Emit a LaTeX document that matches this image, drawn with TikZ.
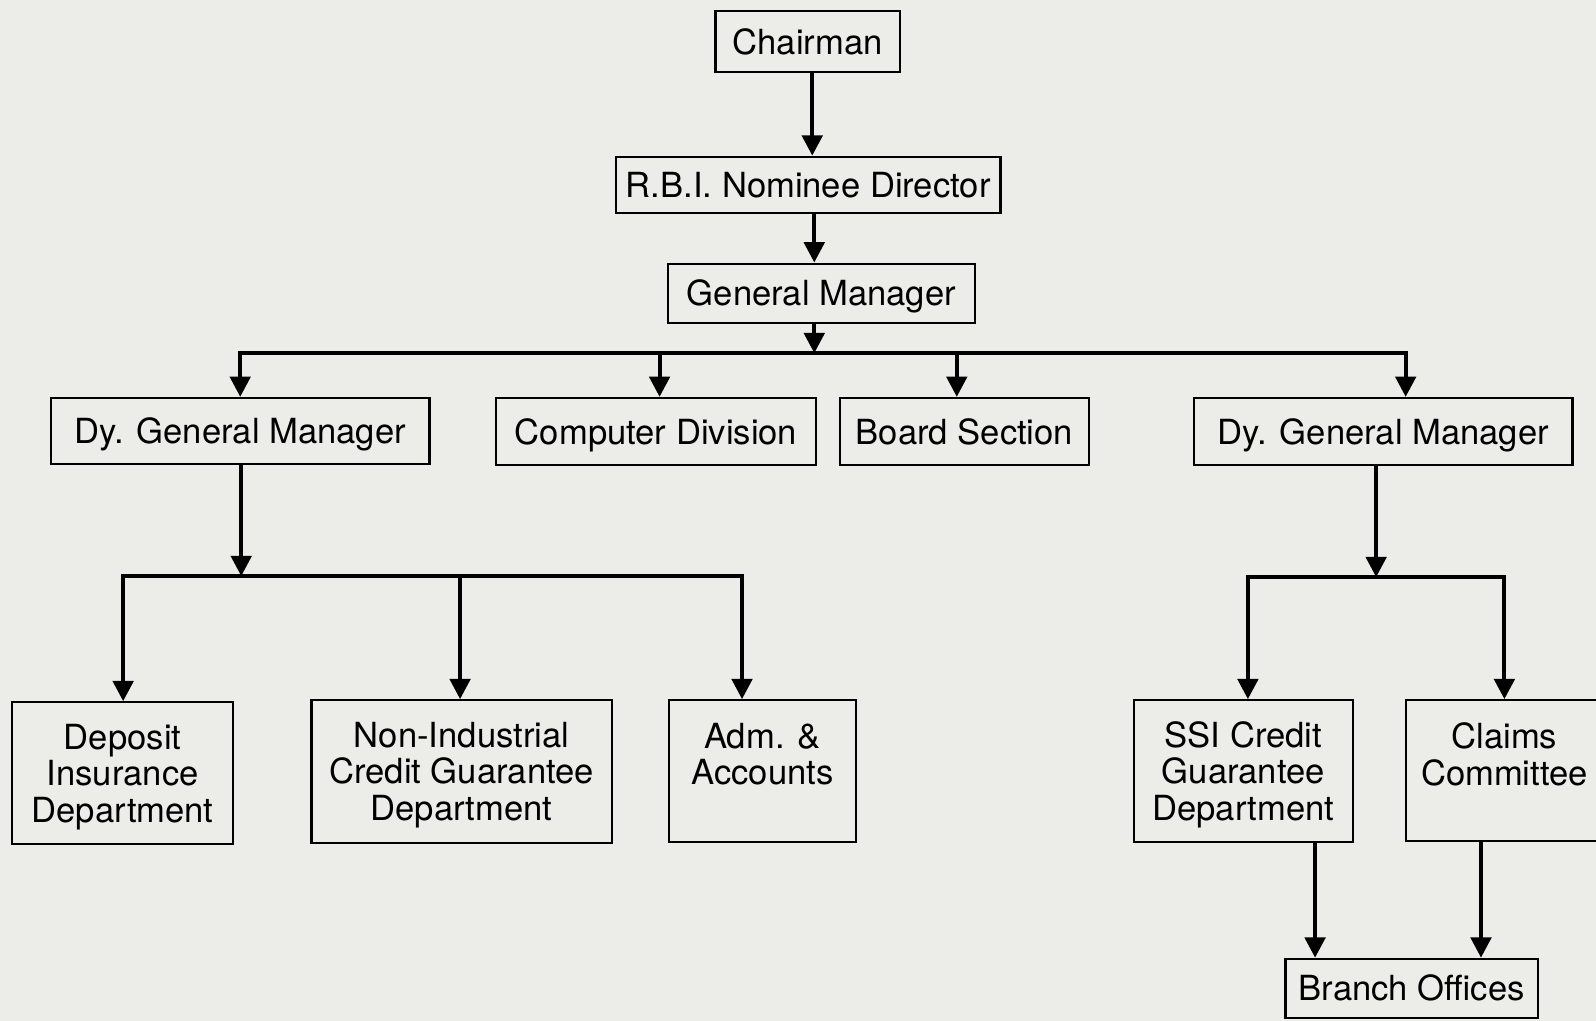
\documentclass[tikz,border=0pt]{standalone}
\usepackage{fontspec}
\setmainfont{TeX Gyre Heros}
\usetikzlibrary{arrows.meta}
\definecolor{paper}{RGB}{236,236,233}
\begin{document}
\begin{tikzpicture}[x=0.5pt,y=-0.5pt,
  box/.style={draw=black, line width=1.1pt, inner sep=0pt, align=center,
    font=\fontsize{17}{18}\selectfont, text height=12.4pt, text depth=0pt},
  mbox/.style={draw=black, line width=1.1pt, inner sep=0pt},
  txt/.style={inner sep=0pt, align=center, font=\fontsize{17}{18}\selectfont},
  conn/.style={line width=2pt, line cap=rect},
  arr/.style={line width=2pt, -{Triangle[length=10pt,width=10pt]}}]
\fill[paper] (0,0) rectangle (1568,1003);
\useasboundingbox (0,0) rectangle (1568,1003);

% single-line boxes
\node[box, minimum width=90.5pt, minimum height=30pt] (chair) at (793.5,41) {Chairman};
\node[box, minimum width=189pt, minimum height=27.5pt] (rbi) at (794,181.5) {R.B.I. Nominee Director};
\node[box, minimum width=151pt, minimum height=29pt] (gm) at (807,288) {General Manager};
\node[box, minimum width=186pt, minimum height=32.5pt] (dgml) at (236,423.5) {Dy. General Manager};
\node[box, minimum width=157.5pt, minimum height=33pt] (comp) at (644.5,424) {Computer Division};
\node[box, minimum width=122.5pt, minimum height=33pt] (board) at (947.5,424) {Board Section};
\node[box, minimum width=186pt, minimum height=33pt] (dgmr) at (1359,424) {Dy. General Manager};
\node[box, minimum width=124pt, minimum height=29pt] (branch) at (1387,971) {Branch Offices};

% multi-line boxes (frame + text)
\node[mbox, minimum width=108.5pt, minimum height=69.5pt] (dep) at (120.5,759.5) {};
\node[txt] (deptxt) at (120.5,763.5) {Deposit\\Insurance\\Department};
\node[mbox, minimum width=147.5pt, minimum height=70pt] (nonind) at (453.5,758) {};
\node[txt] (nonindtxt) at (453.5,761.5) {Non-Industrial\\Credit Guarantee\\Department};
\node[mbox, minimum width=92pt, minimum height=69.5pt] (adm) at (749,757.5) {};
\node[txt] (admtxt) at (749,758.5) {Adm. \&\\Accounts\\\mbox{}};
\node[mbox, minimum width=107.5pt, minimum height=69.5pt] (ssi) at (1221.5,757.5) {};
\node[txt] (ssitxt) at (1221.5,761) {SSI Credit\\Guarantee\\Department};
\node[mbox, minimum width=97pt, minimum height=69pt] (claims) at (1478,757) {};
\node[txt] (claimstxt) at (1478,759) {Claims\\Committee\\\mbox{}};

% top chain
\coordinate (c0) at (798,100);
\coordinate (a0) at (800,347);
\draw[arr] (chair.south -| c0) -- (rbi.north -| c0);
\draw[arr] (rbi.south -| a0) -- (gm.north -| a0);

% first bus
\coordinate (a1) at (236,347);
\coordinate (a2) at (648,347);
\coordinate (a3) at (940,347);
\coordinate (a4) at (1381,347);
\draw[conn] (a1) -- (a4);
\draw[arr] (gm.south -| a0) -- (a0);
\draw[arr] (a1) -- (a1 |- dgml.north);
\draw[arr] (a2) -- (a2 |- comp.north);
\draw[arr] (a3) -- (a3 |- board.north);
\draw[arr] (a4) -- (a4 |- dgmr.north);

% left sub-bus
\coordinate (b0) at (237,566);
\coordinate (b1) at (121,566);
\coordinate (b2) at (452,566);
\coordinate (b3) at (729,566);
\draw[conn] (b1) -- (b3);
\draw[arr] (dgml.south -| b0) -- (b0);
\draw[arr] (b1) -- (b1 |- dep.north);
\draw[arr] (b2) -- (b2 |- nonind.north);
\draw[arr] (b3) -- (b3 |- adm.north);

% right sub-bus
\coordinate (d0) at (1352,567);
\coordinate (d1) at (1226,567);
\coordinate (d2) at (1478,567);
\draw[conn] (d1) -- (d2);
\draw[arr] (dgmr.south -| d0) -- (d0);
\draw[arr] (d1) -- (d1 |- ssi.north);
\draw[arr] (d2) -- (d2 |- claims.north);

% to branch offices
\coordinate (e1) at (1292,900);
\coordinate (e2) at (1455,900);
\draw[arr] (ssi.south -| e1) -- (branch.north -| e1);
\draw[arr] (claims.south -| e2) -- (branch.north -| e2);
\end{tikzpicture}
\end{document}
